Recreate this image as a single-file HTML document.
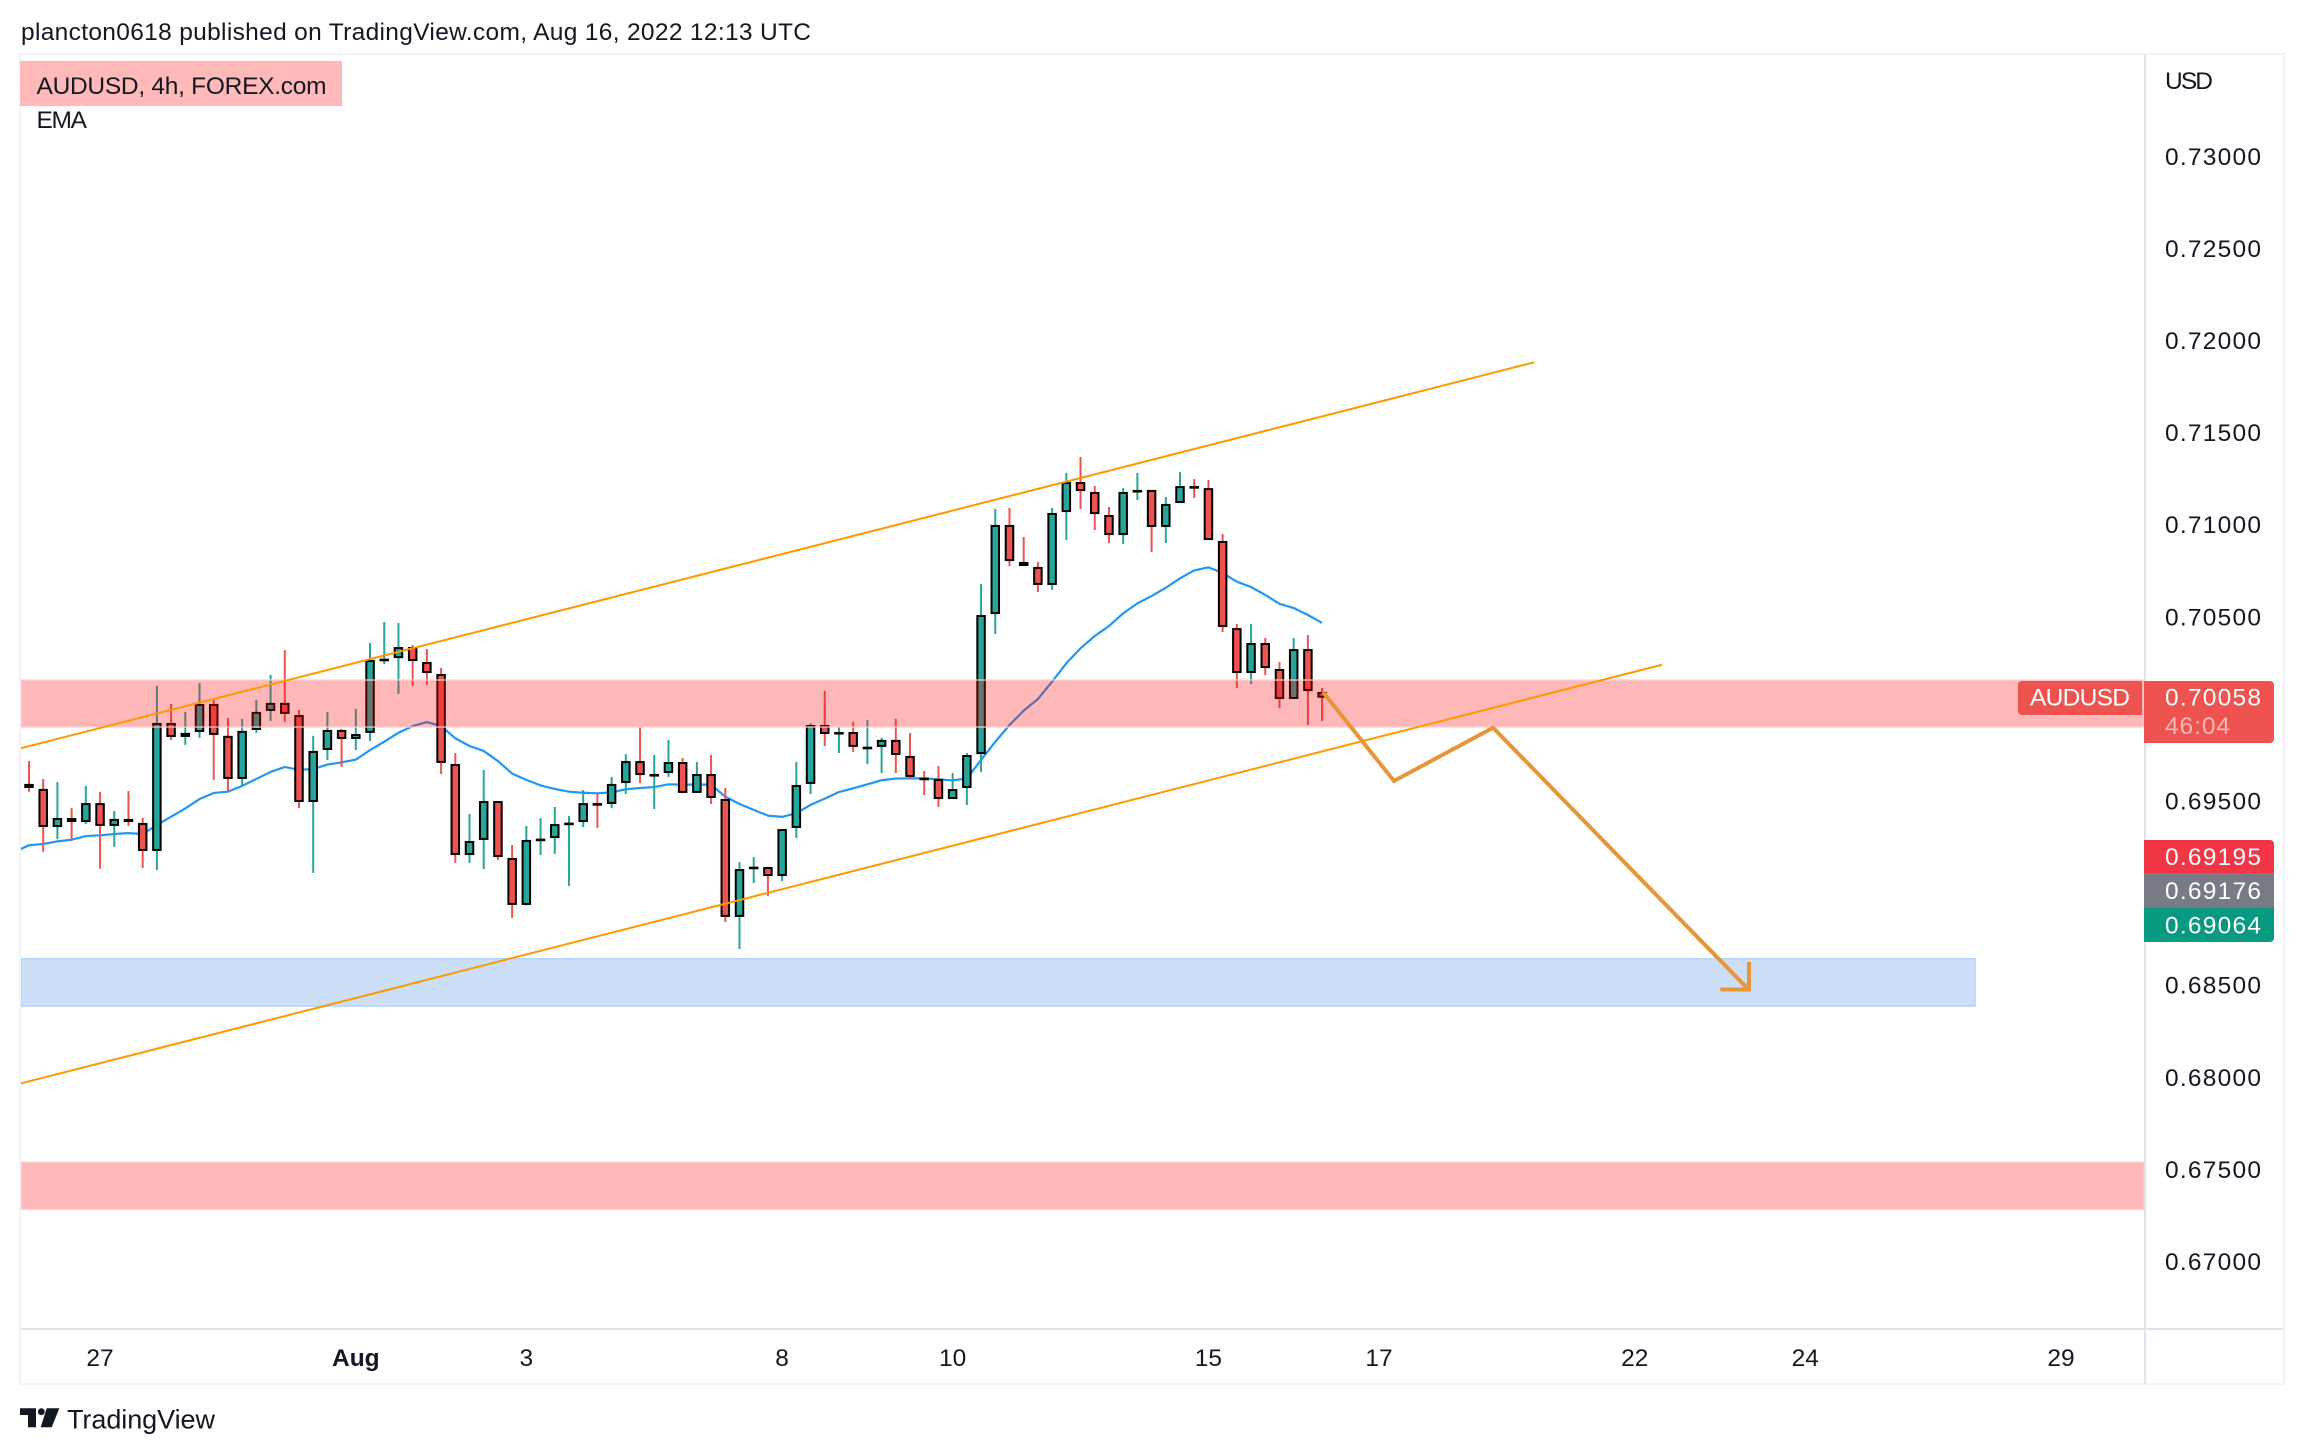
<!DOCTYPE html>
<html lang="en">
<head>
<meta charset="utf-8">
<title>AUDUSD 4h chart</title>
<style>
html,body{margin:0;padding:0;background:#fff;}
svg{display:block;}
text{font-family:"Liberation Sans",sans-serif;fill:#131722;font-size:24.5px;}
</style>
</head>
<body>
<svg id="chart" xmlns="http://www.w3.org/2000/svg" width="2304" height="1454" viewBox="0 0 2304 1454">
  <defs><clipPath id="pane-clip"><rect x="21" y="55" width="2123" height="1273"/></clipPath></defs>
  <rect x="0" y="0" width="2304" height="1454" fill="#fff"/>
  <text x="21" y="40" textLength="790" lengthAdjust="spacing">plancton0618 published on TradingView.com, Aug 16, 2022 12:13 UTC</text>

  <g fill="none">
    <rect x="20" y="54" width="2264" height="1330" stroke="#f0f3fa" stroke-width="2"/>
    <line x1="2145" y1="55" x2="2145" y2="1384" stroke="#e0e3eb" stroke-width="2"/>
    <line x1="21" y1="1329" x2="2283" y2="1329" stroke="#e0e3eb" stroke-width="2"/>
  </g>

  <g clip-path="url(#pane-clip)">
    <g id="ema-layer"></g>
    <g id="candle-layer"></g>
    <g id="zone-layer"></g>
    <g id="drawing-layer"></g>
  </g>

  <g>
    <rect x="20" y="61" width="322" height="45" fill="#ffb9b9"/>
    <text x="36.5" y="94" textLength="290" lengthAdjust="spacing">AUDUSD, 4h, FOREX.com</text>
    <text x="36.5" y="128" textLength="50.5" lengthAdjust="spacing">EMA</text>
  </g>

  <text x="2165" y="89" textLength="48" lengthAdjust="spacing">USD</text>
  <g id="price-axis"></g>
  <g id="time-axis"></g>

  <g>
    <path d="M2022 681H2142V715H2022a4 4 0 0 1-4-4V685a4 4 0 0 1 4-4Z" fill="#ef5350"/>
    <text x="2030" y="705.3" textLength="100" lengthAdjust="spacing" style="fill:#fff">AUDUSD</text>
    <path d="M2144 681H2270a4 4 0 0 1 4 4V739a4 4 0 0 1-4 4H2144Z" fill="#ef5350"/>
    <text x="2165" y="705.3" textLength="96" lengthAdjust="spacing" style="fill:#fff">0.70058</text>
    <text x="2165" y="734" textLength="65" lengthAdjust="spacing" style="fill:#fff;fill-opacity:.6">46:04</text>
    <path d="M2144 840H2270a4 4 0 0 1 4 4V873H2144Z" fill="#f23645"/>
    <text x="2165" y="865" textLength="96" lengthAdjust="spacing" style="fill:#fff">0.69195</text>
    <rect x="2144" y="873" width="130" height="35" fill="#787b86"/>
    <text x="2165" y="899" textLength="96" lengthAdjust="spacing" style="fill:#fff">0.69176</text>
    <path d="M2144 908H2274V938a4 4 0 0 1-4 4H2144Z" fill="#089981"/>
    <text x="2165" y="933.5" textLength="96" lengthAdjust="spacing" style="fill:#fff">0.69064</text>
  </g>

  <g>
    <path d="M20 1408.3H36V1427.3H28V1415H20Z" fill="#131722"/>
    <circle cx="41.3" cy="1411.7" r="3.4" fill="#131722"/>
    <path d="M46.7 1408.3H59.3L51.7 1427.3H40.7Z" fill="#131722"/>
    <text x="67" y="1428.7" textLength="148" lengthAdjust="spacing" style="font-size:27px">TradingView</text>
  </g>
</svg>

<script>
const opens = [0.69590,0.69563,0.69356,0.69405,0.69383,0.69486,0.69362,0.69400,0.69378,0.69226,
0.69921,0.69845,0.69872,0.70024,0.69851,0.69617,0.69883,0.69986,0.70030,0.69964,
0.69492,0.69774,0.69883,0.69834,0.69867,0.70266,0.70273,0.70333,0.70252,0.70187,
0.69698,0.69204,0.69286,0.69497,0.69188,0.68933,0.69289,0.69296,0.69378,0.69383,
0.69486,0.69481,0.69595,0.69714,0.69638,0.69649,0.69709,0.69541,0.69644,0.69508,
0.68868,0.69134,0.69139,0.69090,0.69351,0.69590,0.69910,0.69861,0.69872,0.69787,
0.69791,0.69829,0.69742,0.69624,0.69617,0.69508,0.69568,0.69752,0.70512,0.70996,
0.70795,0.70768,0.70670,0.71066,0.71229,0.71175,0.71050,0.70941,0.71182,0.71186,
0.70985,0.71115,0.71207,0.71196,0.70909,0.70436,0.70192,0.70355,0.70214,0.70051,
0.70322,0.70089];
const highs = [0.69714,0.69617,0.69600,0.69459,0.69579,0.69546,0.69443,0.69552,0.69405,0.70122,
0.70024,0.69981,0.70138,0.70046,0.69948,0.69943,0.70046,0.70182,0.70317,0.69992,
0.69851,0.69981,0.69888,0.69997,0.70355,0.70469,0.70464,0.70344,0.70322,0.70219,
0.69758,0.69427,0.69666,0.69497,0.69258,0.69362,0.69405,0.69465,0.69416,0.69557,
0.69539,0.69628,0.69752,0.69899,0.69747,0.69829,0.69731,0.69709,0.69747,0.69568,
0.69166,0.69193,0.69141,0.69345,0.69709,0.69919,0.70095,0.69899,0.69926,0.69937,
0.69840,0.69943,0.69866,0.69660,0.69687,0.69649,0.69758,0.70675,0.71082,0.71088,
0.70930,0.70795,0.71088,0.71278,0.71365,0.71207,0.71093,0.71196,0.71278,0.71186,
0.71148,0.71283,0.71245,0.71240,0.70947,0.70458,0.70458,0.70382,0.70252,0.70382,
0.70398,0.70111];
const lows = [0.69548,0.69222,0.69291,0.69282,0.69372,0.69130,0.69248,0.69362,0.69134,0.69123,
0.69829,0.69802,0.69840,0.69612,0.69550,0.69579,0.69867,0.69932,0.69926,0.69459,
0.69107,0.69720,0.69682,0.69774,0.69823,0.70241,0.70078,0.70122,0.70127,0.69644,
0.69161,0.69161,0.69128,0.69177,0.68862,0.68930,0.69204,0.69210,0.69036,0.69356,
0.69351,0.69459,0.69535,0.69595,0.69454,0.69628,0.69541,0.69541,0.69481,0.68841,
0.68694,0.69052,0.68982,0.69063,0.69296,0.69535,0.69796,0.69758,0.69763,0.69698,
0.69649,0.69649,0.69617,0.69530,0.69465,0.69508,0.69475,0.69655,0.70404,0.70773,
0.70773,0.70632,0.70643,0.70914,0.71082,0.70968,0.70898,0.70892,0.71131,0.70849,
0.70898,0.71115,0.71142,0.70914,0.70415,0.70111,0.70132,0.70181,0.70002,0.70051,
0.69910,0.69932];
const closes = [0.69568,0.69356,0.69405,0.69383,0.69486,0.69362,0.69400,0.69383,0.69226,0.69921,
0.69845,0.69867,0.70024,0.69856,0.69617,0.69878,0.69981,0.70030,0.69970,0.69492,
0.69769,0.69883,0.69834,0.69861,0.70263,0.70270,0.70333,0.70257,0.70192,0.69704,
0.69204,0.69280,0.69497,0.69193,0.68933,0.69286,0.69293,0.69372,0.69380,0.69486,
0.69483,0.69590,0.69714,0.69638,0.69644,0.69709,0.69541,0.69644,0.69514,0.68868,
0.69128,0.69141,0.69090,0.69345,0.69584,0.69910,0.69861,0.69872,0.69791,0.69792,
0.69829,0.69747,0.69628,0.69620,0.69508,0.69562,0.69747,0.70507,0.70996,0.70800,
0.70773,0.70670,0.71061,0.71229,0.71180,0.71055,0.70941,0.71175,0.71186,0.70985,
0.71110,0.71207,0.71202,0.70914,0.70442,0.70192,0.70355,0.70219,0.70051,0.70322,
0.70094,0.70058];
const emaStartBar = -1;
const emaValues = [0.69222,0.69257,0.69264,0.69278,0.69287,0.69307,0.69311,0.69318,0.69323,0.69318,
0.69367,0.69412,0.69457,0.69508,0.69541,0.69548,0.69579,0.69617,0.69655,0.69682,
0.69666,0.69671,0.69695,0.69707,0.69722,0.69774,0.69819,0.69868,0.69904,0.69926,
0.69904,0.69838,0.69796,0.69769,0.69714,0.69646,0.69612,0.69582,0.69563,0.69548,
0.69542,0.69539,0.69544,0.69561,0.69568,0.69573,0.69588,0.69586,0.69586,0.69586,
0.69521,0.69481,0.69449,0.69418,0.69411,0.69431,0.69476,0.69510,0.69546,0.69566,
0.69588,0.69610,0.69619,0.69620,0.69620,0.69615,0.69609,0.69620,0.69720,0.69819,
0.69910,0.69988,0.70051,0.70145,0.70245,0.70326,0.70393,0.70447,0.70516,0.70570,
0.70610,0.70655,0.70706,0.70749,0.70766,0.70735,0.70688,0.70659,0.70616,0.70568,
0.70545,0.70507,0.70464];
const priceTicks = [0.73,0.725,0.72,0.715,0.71,0.705,0.695,0.685,0.68,0.675,0.67];
const timeTickBars = [5,23,35,53,65,83,95,113,125,143];
const timeTickLabels = ["27","Aug","3","8","10","15","17","22","24","29"];
const redZoneTops = [0.70154,0.67537];
const redZoneBottoms = [0.69899,0.67280];
const blueZoneTops = [0.68641];
const blueZoneBottoms = [0.68384];
const trendBarsUpper = [-0.63,105.93];
const trendPricesUpper = [0.69783,0.71879];
const trendBarsLower = [-0.63,114.92];
const trendPricesLower = [0.67963,0.70237];
const pathBars = [91.06,96.06,103.03,120.97];
const pathPrices = [0.70089,0.69606,0.69895,0.68477];
const arrowBars = [119.03,121.04,121.04];
const arrowPrices = [0.68474,0.68474,0.68623];

const SVGNS = "http://www.w3.org/2000/svg";
function xAt(bar){ return 29 + bar * 14.21; }
function yAt(price){ return 800.5 + (0.695 - price) * 18420; }
function mk(tag, parent){ const el = document.createElementNS(SVGNS, tag); parent.appendChild(el); return el; }
function pts(xs, ys){ return xs.map(function(b, i){ return xAt(b).toFixed(2) + "," + yAt(ys[i]).toFixed(2); }).join(" "); }

const emaLayer = document.getElementById("ema-layer");
const candleLayer = document.getElementById("candle-layer");
const zoneLayer = document.getElementById("zone-layer");
const drawingLayer = document.getElementById("drawing-layer");
const priceAxis = document.getElementById("price-axis");
const timeAxis = document.getElementById("time-axis");

const emaLine = mk("polyline", emaLayer);


emaLine.setAttribute("points", emaValues.map(function(v, i){ return xAt(emaStartBar + i).toFixed(2) + "," + yAt(v).toFixed(2); }).join(" "));
emaLine.setAttribute("fill", "none");
emaLine.setAttribute("stroke", "#2196f3");
emaLine.setAttribute("stroke-width", "2.2");
emaLine.setAttribute("stroke-linejoin", "round");

opens.forEach(function(open, i){
  const close = closes[i];
  const color = close >= open ? "#26a69a" : "#ef5350";
  const cx = xAt(i);
  const g = mk("g", candleLayer);
  
  
  const wick = mk("rect", g);
  
  
  wick.setAttribute("x", (cx - 1).toFixed(2));
  wick.setAttribute("width", "2");
  wick.setAttribute("y", yAt(highs[i]).toFixed(2));
  wick.setAttribute("height", (yAt(lows[i]) - yAt(highs[i])).toFixed(2));
  wick.setAttribute("fill", color);
  const body = mk("rect", g);
  
  
  const top = yAt(Math.max(open, close)) + 1;
  const h = Math.max(0.6, yAt(Math.min(open, close)) - yAt(Math.max(open, close)) - 2);
  body.setAttribute("x", (cx - 3.75).toFixed(2));
  body.setAttribute("width", "7.5");
  body.setAttribute("y", top.toFixed(2));
  body.setAttribute("height", h.toFixed(2));
  body.setAttribute("fill", color);
  body.setAttribute("stroke", "#000");
  body.setAttribute("stroke-width", "2");
});

redZoneTops.forEach(function(t, i){
  const z = mk("rect", zoneLayer);
  
  
  z.setAttribute("x", "21");
  z.setAttribute("width", "2123");
  z.setAttribute("y", yAt(t).toFixed(2));
  z.setAttribute("height", (yAt(redZoneBottoms[i]) - yAt(t)).toFixed(2));
  z.setAttribute("fill", "rgba(255,0,0,0.28)");
  z.setAttribute("stroke", "rgba(255,205,205,0.8)");
  z.setAttribute("stroke-width", "1.5");
});
blueZoneTops.forEach(function(t, i){
  const z = mk("rect", zoneLayer);
  
  
  z.setAttribute("x", "21");
  z.setAttribute("width", "1954");
  z.setAttribute("y", yAt(t).toFixed(2));
  z.setAttribute("height", (yAt(blueZoneBottoms[i]) - yAt(t)).toFixed(2));
  z.setAttribute("fill", "rgba(33,118,220,0.23)");
  z.setAttribute("stroke", "#b3d4f7");
  z.setAttribute("stroke-width", "1.5");
});

const upper = mk("polyline", drawingLayer);


upper.setAttribute("points", pts(trendBarsUpper, trendPricesUpper));
upper.setAttribute("fill", "none");
upper.setAttribute("stroke", "#ff9800");
upper.setAttribute("stroke-width", "2");

const lower = mk("polyline", drawingLayer);


lower.setAttribute("points", pts(trendBarsLower, trendPricesLower));
lower.setAttribute("fill", "none");
lower.setAttribute("stroke", "#ff9800");
lower.setAttribute("stroke-width", "2");

const projection = mk("polyline", drawingLayer);


projection.setAttribute("points", pts(pathBars, pathPrices));
projection.setAttribute("fill", "none");
projection.setAttribute("stroke", "#e69539");
projection.setAttribute("stroke-width", "4");

const arrow = mk("polyline", drawingLayer);


arrow.setAttribute("points", pts(arrowBars, arrowPrices));
arrow.setAttribute("fill", "none");
arrow.setAttribute("stroke", "#e69539");
arrow.setAttribute("stroke-width", "4");

priceTicks.forEach(function(p){
  const t = mk("text", priceAxis);
  
  
  t.setAttribute("x", "2165");
  t.setAttribute("y", (yAt(p) + 9).toFixed(2));
  t.setAttribute("textLength", "96");
  t.setAttribute("lengthAdjust", "spacing");
  t.textContent = p.toFixed(5);
});

timeTickBars.forEach(function(b, i){
  const t = mk("text", timeAxis);
  
  
  t.setAttribute("x", xAt(b).toFixed(2));
  t.setAttribute("y", "1366");
  t.setAttribute("text-anchor", "middle");
  if (timeTickLabels[i] === "Aug") { t.style.fontWeight = "bold"; }
  t.textContent = timeTickLabels[i];
});
</script>
</body>
</html>
